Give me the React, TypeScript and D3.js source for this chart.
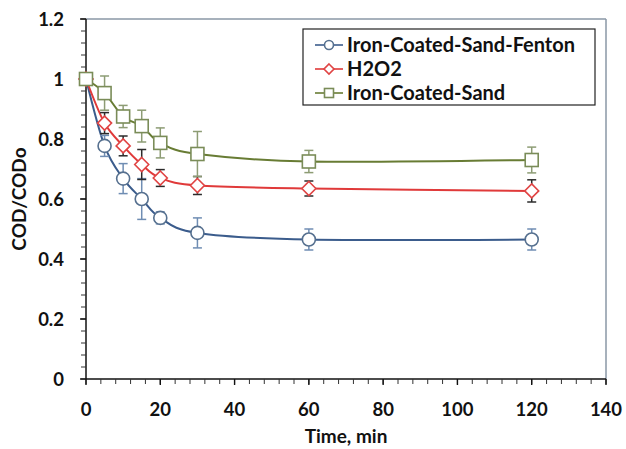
import React from 'react';
import * as d3 from 'd3';

// time points (min)
const times = [0, 5, 10, 15, 20, 30, 60, 120];

const fentonVals = [1.0, 0.777, 0.668, 0.6, 0.537, 0.487, 0.465, 0.465];
const fentonErr = [0, 0.035, 0.05, 0.068, 0.02, 0.05, 0.035, 0.035];

const h2o2Vals = [1.0, 0.853, 0.777, 0.715, 0.67, 0.645, 0.635, 0.627];
const h2o2Err = [0, 0.035, 0.033, 0.05, 0.028, 0.03, 0.025, 0.037];

const sandVals = [1.0, 0.953, 0.875, 0.843, 0.787, 0.75, 0.725, 0.73];
const sandErr = [0, 0.057, 0.037, 0.053, 0.05, 0.075, 0.037, 0.043];

const xTicks = [0, 20, 40, 60, 80, 100, 120, 140];
const yTicks = [0, 0.2, 0.4, 0.6, 0.8, 1, 1.2];

const series = [
  { name: 'Iron-Coated-Sand-Fenton', vals: fentonVals, err: fentonErr, shape: 'circle', line: '#3b5c8c', mark: '#56708f', bar: '#6f8db3' },
  { name: 'H2O2', vals: h2o2Vals, err: h2o2Err, shape: 'diamond', line: '#e03a3a', mark: '#e04444', bar: '#2b2b2b' },
  { name: 'Iron-Coated-Sand', vals: sandVals, err: sandErr, shape: 'square', line: '#687c34', mark: '#7a8c58', bar: '#8d9c74' },
];

const W = 626;
const H = 449;
const font = 'Lato, "Open Sans", sans-serif';

function Marker({ shape, x, y, stroke, size = 6.5 }: any) {
  if (shape === 'circle') {
    return <circle cx={x} cy={y} r={size} fill="#fff" stroke={stroke} strokeWidth={1.6} />;
  }
  if (shape === 'diamond') {
    const s = size + 0.5;
    return (
      <path d={`M${x},${y - s}L${x + s},${y}L${x},${y + s}L${x - s},${y}Z`} fill="#fff" stroke={stroke} strokeWidth={1.6} />
    );
  }
  return <rect x={x - size} y={y - size} width={size * 2} height={size * 2} fill="#fff" stroke={stroke} strokeWidth={1.6} />;
}

export default function App() {
  const x = d3.scaleLinear().domain([0, 140]).range([86, 606]);
  const y = d3.scaleLinear().domain([0, 1.2]).range([379, 19]);

  const line = d3
    .line<number>()
    .x((_, i) => x(times[i]))
    .y((d) => y(d))
    .curve(d3.curveCardinal.tension(0));

  const xMinor = d3.range(0, 141, 4);
  const yMinor = d3.range(0, 1.2001, 0.04);

  return (
    <svg width={W} height={H} style={{ position: 'absolute', left: 0, top: 0, background: '#fff' }} fontFamily={font}>
      {/* plot frame */}
      <line x1={86} x2={606} y1={19} y2={19} stroke="#8a97a6" strokeWidth={1.5} />
      <line x1={606} x2={606} y1={19} y2={379} stroke="#8a97a6" strokeWidth={1.5} />

      {/* axes */}
      <line x1={86} x2={86} y1={19} y2={379} stroke="#111" strokeWidth={1.5} />
      <line x1={86} x2={606} y1={379} y2={379} stroke="#111" strokeWidth={1.5} />
      {yMinor.map((t, i) => (
        <line key={'ym' + i} x1={86 - 5} x2={86} y1={y(t)} y2={y(t)} stroke="#333" strokeWidth={1} />
      ))}
      {yTicks.map((t) => (
        <line key={'yM' + t} x1={86 - 6} x2={86} y1={y(t)} y2={y(t)} stroke="#111" strokeWidth={1.4} />
      ))}
      {xMinor.map((t, i) => (
        <line key={'xm' + i} x1={x(t)} x2={x(t)} y1={379} y2={384} stroke="#333" strokeWidth={1} />
      ))}
      {xTicks.map((t) => (
        <line key={'xM' + t} x1={x(t)} x2={x(t)} y1={379} y2={385} stroke="#111" strokeWidth={1.4} />
      ))}

      {yTicks.map((t) => (
        <text key={'yl' + t} x={64} y={y(t)} dy="0.36em" textAnchor="end" fontSize={18.5} fontWeight="bold" fill="#111">
          {d3.format('~g')(t)}
        </text>
      ))}
      {xTicks.map((t) => (
        <text key={'xl' + t} x={x(t)} y={409} dy="0.36em" textAnchor="middle" fontSize={18.5} fontWeight="bold" fill="#111">
          {t}
        </text>
      ))}
      <text x={346} y={436} dy="0.36em" textAnchor="middle" fontSize={19} fontWeight="bold" fill="#111">
        Time, min
      </text>
      <text transform={`translate(19,199) rotate(-90)`} dy="0.36em" textAnchor="middle" fontSize={19} fontWeight="bold" fill="#111">
        COD/CODo
      </text>

      {/* series */}
      {series.map((s) => (
        <g key={s.name}>
          <path d={line(s.vals) || ''} fill="none" stroke={s.line} strokeWidth={2} />
          {s.vals.map((v, i) =>
            s.err[i] > 0 ? (
              <g key={'e' + i} stroke={s.bar} strokeWidth={1.5}>
                <line x1={x(times[i])} x2={x(times[i])} y1={y(v + s.err[i])} y2={y(v - s.err[i])} />
                <line x1={x(times[i]) - 4.5} x2={x(times[i]) + 4.5} y1={y(v + s.err[i])} y2={y(v + s.err[i])} />
                <line x1={x(times[i]) - 4.5} x2={x(times[i]) + 4.5} y1={y(v - s.err[i])} y2={y(v - s.err[i])} />
              </g>
            ) : null
          )}
        </g>
      ))}
      {series.map((s) => (
        <g key={'m' + s.name}>
          {s.vals.map((v, i) => (
            <Marker key={i} shape={s.shape} x={x(times[i])} y={y(v)} stroke={s.mark} />
          ))}
        </g>
      ))}

      {/* legend */}
      <rect x={303} y={29} width={292} height={76} fill="#fff" stroke="#222" strokeWidth={1.2} />
      {series.map((s, i) => {
        const ly = 45 + i * 24;
        return (
          <g key={'lg' + s.name}>
            <line x1={315} x2={343} y1={ly} y2={ly} stroke={s.line} strokeWidth={1.6} />
            <Marker shape={s.shape} x={329} y={ly} stroke={s.mark} size={4.5} />
            <text x={347} y={ly} dy="0.36em" fontSize={20} fontWeight="bold" fill="#111">
              {s.name}
            </text>
          </g>
        );
      })}
    </svg>
  );
}
